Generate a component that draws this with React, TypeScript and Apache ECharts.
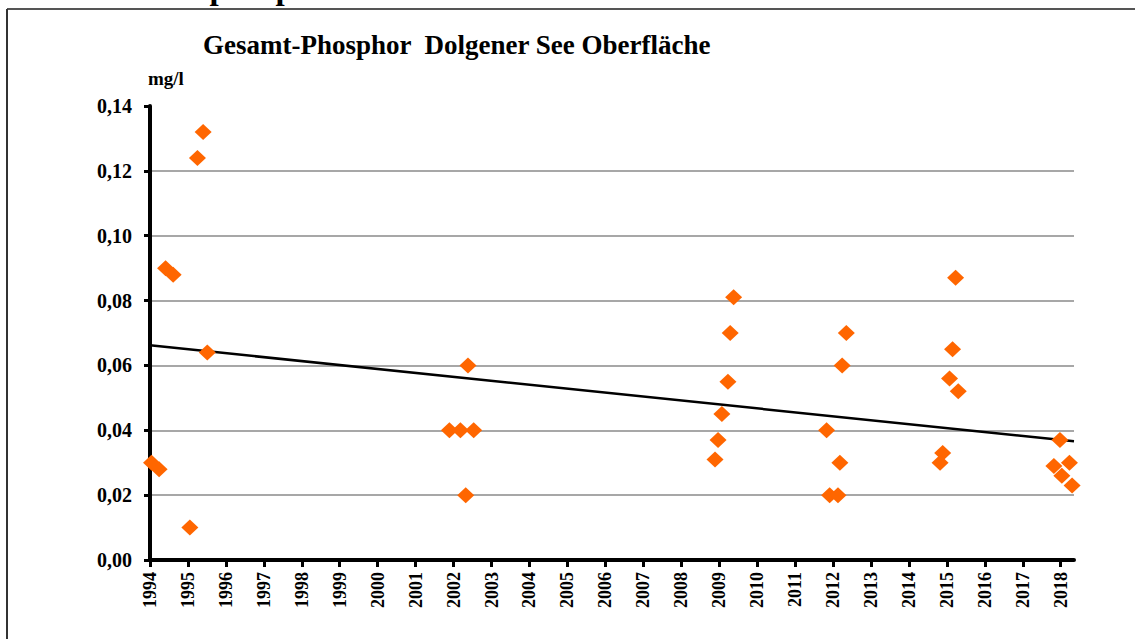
import React, { useEffect, useRef } from "react";
import * as echarts from "echarts";

const FONT = "'Liberation Serif', 'Times New Roman', serif";

const chartTitle = "Gesamt-Phosphor  Dolgener See Oberfläche";
const unitLabel = "mg/l";
const pageHeading = "5.5.1 Gesamtphosphat";

const yearTicks = [
  1994, 1995, 1996, 1997, 1998, 1999, 2000, 2001, 2002, 2003, 2004, 2005, 2006,
  2007, 2008, 2009, 2010, 2011, 2012, 2013, 2014, 2015, 2016, 2017, 2018,
];

// sampling time (decimal year) and total phosphorus (mg/l)
const sampleTimes = [
  1994.04, 1994.24, 1994.41, 1994.61, 1995.05, 1995.25, 1995.4, 1995.51,
  2001.89, 2002.18, 2002.53, 2002.38, 2002.32,
  2009.38, 2009.29, 2009.23, 2009.07, 2008.97, 2008.89,
  2012.35, 2012.24, 2011.83, 2012.18, 2011.91, 2012.13,
  2015.23, 2015.15, 2015.07, 2015.3, 2014.89, 2014.82,
  2017.98, 2017.82, 2018.23, 2018.03, 2018.3,
];
const phosphorus = [
  0.03, 0.028, 0.09, 0.088, 0.01, 0.124, 0.132, 0.064,
  0.04, 0.04, 0.04, 0.06, 0.02,
  0.081, 0.07, 0.055, 0.045, 0.037, 0.031,
  0.07, 0.06, 0.04, 0.03, 0.02, 0.02,
  0.087, 0.065, 0.056, 0.052, 0.033, 0.03,
  0.037, 0.029, 0.03, 0.026, 0.023,
];

const trendTimes = [1994, 2018.35];
const trendValues = [0.0662, 0.0366];

export default function App() {
  const ref = useRef<HTMLDivElement>(null);

  useEffect(() => {
    const chart = echarts.init(ref.current!, null, { renderer: "svg" });
    chart.setOption({
      animation: false,
      backgroundColor: "#fff",
      title: {
        text: chartTitle,
        left: 203,
        top: 31,
        padding: 0,
        textStyle: { fontFamily: FONT, fontWeight: "bold", fontSize: 27, color: "#000" },
      },
      grid: { left: 150, right: 61, top: 106, bottom: 79, containLabel: false },
      xAxis: {
        type: "value",
        min: 1994,
        max: 2018.35,
        interval: 1,
        axisLine: { show: true, onZero: false, lineStyle: { color: "#000", width: 4 } },
        axisTick: { show: true, length: 7, customValues: yearTicks, lineStyle: { color: "#000", width: 3 } },
        axisLabel: {
          customValues: yearTicks,
          rotate: 90,
          margin: 12,
          fontFamily: FONT,
          fontWeight: "bold",
          fontSize: 18,
          color: "#000",
          formatter: (v: number) => (Number.isInteger(v) ? String(v) : ""),
        },
        splitLine: { show: false },
      },
      yAxis: {
        type: "value",
        min: 0,
        max: 0.14,
        interval: 0.02,
        axisLine: { show: true, onZero: false, lineStyle: { color: "#000", width: 4 } },
        axisTick: { show: true, length: 6, lineStyle: { color: "#000", width: 3 } },
        axisLabel: {
          margin: 18,
          fontFamily: FONT,
          fontWeight: "bold",
          fontSize: 20,
          color: "#000",
          formatter: (v: number) => v.toFixed(2).replace(".", ","),
        },
        splitLine: {
          show: true,
          showMinLine: false,
          showMaxLine: false,
          lineStyle: { color: "#8a8a8a", width: 1.6 },
        },
      },
      graphic: [
        {
          type: "text",
          left: 27,
          top: -29,
          style: { text: pageHeading, font: `bold 33px ${FONT}`, fill: "#000" },
          z: 1,
        },
        {
          type: "line",
          shape: { x1: 7, y1: 9, x2: 1135, y2: 9 },
          style: { stroke: "#555", lineWidth: 2 },
          z: 2,
        },
        {
          type: "line",
          shape: { x1: 7, y1: 9, x2: 7, y2: 639 },
          style: { stroke: "#333", lineWidth: 2 },
          z: 2,
        },
        {
          type: "text",
          left: 148,
          top: 69,
          style: { text: unitLabel, font: `bold 19px ${FONT}`, fill: "#000" },
        },
      ],
      series: [
        {
          type: "line",
          data: trendTimes.map((t, i) => [t, trendValues[i]]),
          showSymbol: false,
          symbol: "none",
          lineStyle: { color: "#000", width: 2.5 },
          z: 3,
          silent: true,
        },
        {
          type: "scatter",
          data: sampleTimes.map((t, i) => [t, phosphorus[i]]),
          symbol: "diamond",
          symbolSize: [17, 16],
          clip: false,
          itemStyle: { color: "#ff6600", opacity: 1 },
          z: 4,
        },
      ],
    });
    return () => chart.dispose();
  }, []);

  return (
    <div
      ref={ref}
      style={{ position: "absolute", left: 0, top: 0, width: 1135, height: 639, background: "#fff" }}
    />
  );
}
